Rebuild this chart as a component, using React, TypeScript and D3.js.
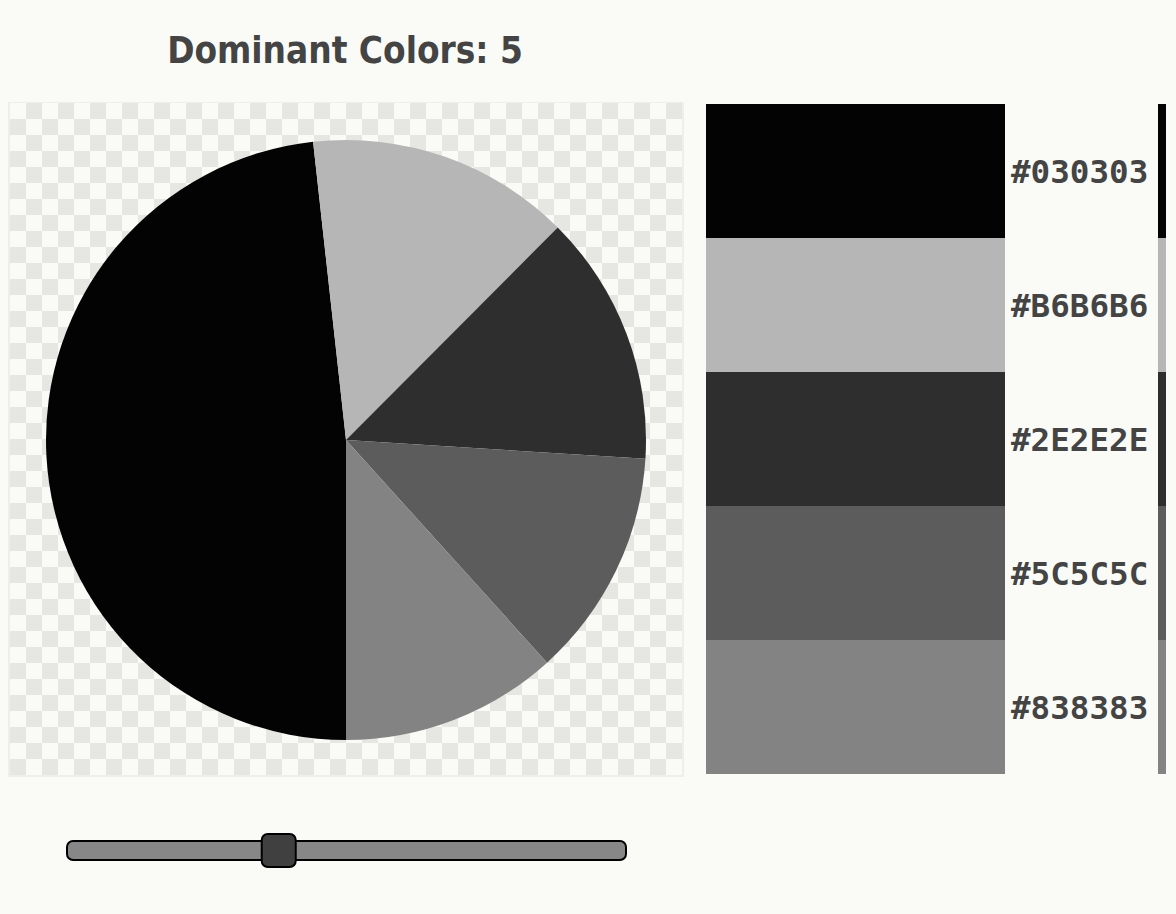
import { useEffect, useRef } from "react";
import * as d3 from "d3";

// dominant colours, in legend order, with their share of the image (%)
const COLORS = ["#030303", "#B6B6B6", "#2E2E2E", "#5C5C5C", "#838383"];
const SHARES = [48.25, 14.22, 13.53, 12.31, 11.69];
const K_MIN = 1;
const K_MAX = 12;
const K = 5;

const BG = "#fafbf6";
const CHECK = "#e6e7e2";

export default function App() {
  const svgRef = useRef<SVGSVGElement>(null);

  useEffect(() => {
    if (!svgRef.current) return;
    document.body.style.margin = "0";
    document.body.style.background = BG;

    const width = 1176;
    const height = 914;
    const svg = d3.select(svgRef.current);
    svg.selectAll("*").remove();
    svg.attr("width", width).attr("height", height);

    svg.append("rect").attr("width", width).attr("height", height).attr("fill", BG);

    // checkerboard "transparent" background behind the pie
    const box = { x: 8, y: 102, w: 676, h: 675 };
    const sq = 16;
    const defs = svg.append("defs");
    const pat = defs
      .append("pattern")
      .attr("id", "checker")
      .attr("patternUnits", "userSpaceOnUse")
      .attr("x", box.x + 2)
      .attr("y", box.y + 1)
      .attr("width", sq * 2)
      .attr("height", sq * 2);
    pat.append("rect").attr("width", sq * 2).attr("height", sq * 2).attr("fill", BG);
    pat.append("rect").attr("x", sq).attr("width", sq).attr("height", sq).attr("fill", CHECK);
    pat.append("rect").attr("y", sq).attr("width", sq).attr("height", sq).attr("fill", CHECK);

    svg
      .append("rect")
      .attr("x", box.x)
      .attr("y", box.y)
      .attr("width", box.w)
      .attr("height", box.h)
      .attr("fill", "#eeeeea");
    svg
      .append("rect")
      .attr("x", box.x + 2)
      .attr("y", box.y + 1)
      .attr("width", box.w - 4)
      .attr("height", box.h - 3)
      .attr("fill", "url(#checker)");

    // title
    const cx = box.x + box.w / 2;
    svg
      .append("text")
      .attr("x", cx - 1)
      .attr("y", 63)
      .attr("text-anchor", "middle")
      .attr("fill", "#444")
      .attr("font-family", "'DejaVu Sans Condensed', 'DejaVu Sans', sans-serif")
      .attr("font-stretch", "condensed")
      .attr("font-weight", "bold")
      .attr("font-size", "36.6px")
      .text(`Dominant Colors: ${K}`);

    // pie
    const cy = 440;
    const radius = 300;
    const data = COLORS.map((c, i) => ({ color: c, share: SHARES[i] }));
    const pie = d3
      .pie<{ color: string; share: number }>()
      .sort(null)
      .value((d) => d.share)
      .startAngle(Math.PI)
      .endAngle(3 * Math.PI);
    const arc = d3
      .arc<d3.PieArcDatum<{ color: string; share: number }>>()
      .innerRadius(0)
      .outerRadius(radius);

    svg
      .append("g")
      .attr("transform", `translate(${cx},${cy})`)
      .selectAll("path")
      .data(pie(data))
      .join("path")
      .attr("d", arc)
      .attr("fill", (d) => d.data.color);

    // swatches
    const sy = d3
      .scaleBand<string>()
      .domain(COLORS)
      .range([104, 774])
      .padding(0);
    const sw = svg.append("g");
    sw.selectAll("rect.sw")
      .data(COLORS)
      .join("rect")
      .attr("class", "sw")
      .attr("x", 706)
      .attr("y", (d) => sy(d)!)
      .attr("width", 299)
      .attr("height", sy.bandwidth())
      .attr("fill", (d) => d);
    sw.selectAll("text")
      .data(COLORS)
      .join("text")
      .attr("x", 1011)
      .attr("y", (d) => sy(d)! + sy.bandwidth() / 2)
      .attr("dy", "0.36em")
      .attr("fill", "#444")
      .attr("font-family", "'DejaVu Sans Mono', monospace")
      .attr("font-weight", "bold")
      .attr("font-size", "32.6px")
      .text((d) => d);
    // next column (cut off at the edge)
    sw.selectAll("rect.edge")
      .data(COLORS)
      .join("rect")
      .attr("class", "edge")
      .attr("x", 1158)
      .attr("y", (d) => sy(d)!)
      .attr("width", 8)
      .attr("height", sy.bandwidth())
      .attr("fill", (d) => d);

    // slider for number of colours
    const track = { x0: 67, x1: 626, y: 841, h: 19 };
    const hw = 34;
    const sx = d3
      .scaleLinear()
      .domain([K_MIN, K_MAX])
      .range([track.x0 + 23, track.x1 - hw / 2]);
    svg
      .append("rect")
      .attr("x", track.x0)
      .attr("y", track.y)
      .attr("width", track.x1 - track.x0)
      .attr("height", track.h)
      .attr("rx", 6)
      .attr("fill", "#878787")
      .attr("stroke", "#000")
      .attr("stroke-width", 2);
    svg
      .append("rect")
      .attr("x", sx(K) - hw / 2)
      .attr("y", 834)
      .attr("width", hw)
      .attr("height", 33)
      .attr("rx", 6)
      .attr("fill", "#404040")
      .attr("stroke", "#000")
      .attr("stroke-width", 2);
  }, []);

  return (
    <div style={{ position: "absolute", left: 0, top: 0 }}>
      <svg ref={svgRef} style={{ display: "block" }} />
    </div>
  );
}
